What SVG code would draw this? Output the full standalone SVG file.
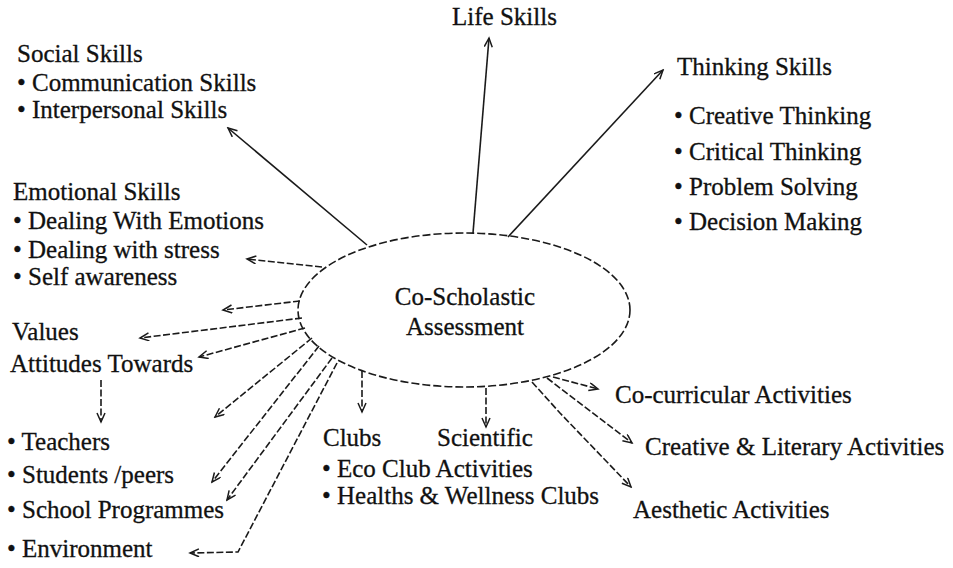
<svg xmlns="http://www.w3.org/2000/svg" width="953" height="568" viewBox="0 0 953 568">
<defs>
<style>
text{font-family:"Liberation Serif","Times New Roman",serif;font-size:25px;fill:#111;stroke:#111;stroke-width:0.3}
.c{fill:none;stroke:#1a1a1a;stroke-width:1.6}
.d{stroke-dasharray:7 2.5}
.ell{fill:none;stroke:#1a1a1a;stroke-width:1.6;stroke-dasharray:8 3}
</style>
<marker id="ah" markerWidth="12" markerHeight="10" refX="10" refY="4.5" orient="auto" markerUnits="userSpaceOnUse">
<path d="M1,0.5 L10,4.5 L1,8.5" fill="none" stroke="#1a1a1a" stroke-width="1.5"/>
</marker>
</defs>
<rect width="953" height="568" fill="#fff"/>

<g id="connectors">
<path class="c" d="M367,245 L228,128" marker-end="url(#ah)"/>
<path class="c" d="M473,233 L489,38" marker-end="url(#ah)"/>
<path class="c" d="M508,237 L663,70" marker-end="url(#ah)"/>
<path class="c d" d="M322,267 L247,259" marker-end="url(#ah)"/>
<path class="c d" d="M300,301 L223,310" marker-end="url(#ah)"/>
<path class="c d" d="M302,318 L140,338" marker-end="url(#ah)"/>
<path class="c d" d="M305,328 L199,357" marker-end="url(#ah)"/>
<path class="c d" d="M101,380 L101,422" marker-end="url(#ah)"/>
<path class="c d" d="M312,338 L215,417" marker-end="url(#ah)"/>
<path class="c d" d="M319,346 L212,482" marker-end="url(#ah)"/>
<path class="c d" d="M332,358 L227,500" marker-end="url(#ah)"/>
<path class="c d" d="M337,363 L238,552 L190,553" marker-end="url(#ah)"/>
<path class="c d" d="M362,371 L362,412" marker-end="url(#ah)"/>
<path class="c d" d="M486,388 L486,427" marker-end="url(#ah)"/>
<path class="c d" d="M553,377 L598,389" marker-end="url(#ah)"/>
<path class="c d" d="M547,378 L632,443" marker-end="url(#ah)"/>
<path class="c d" d="M532,382 L560,413 L631,487" marker-end="url(#ah)"/>
</g>

<g id="center">
<ellipse class="ell" cx="464" cy="310" rx="166" ry="77"/>
<text x="465" y="305" text-anchor="middle">Co-Scholastic</text>
<text x="465" y="335" text-anchor="middle">Assessment</text>
</g>

<g id="life-skills">
<text x="452" y="25">Life Skills</text>
</g>

<g id="social-skills">
<text x="17" y="62">Social Skills</text>
<text x="17" y="91">• Communication Skills</text>
<text x="17" y="118">• Interpersonal Skills</text>
</g>

<g id="emotional-skills">
<text x="13" y="200">Emotional Skills</text>
<text x="13" y="229">• Dealing With Emotions</text>
<text x="13" y="258">• Dealing with stress</text>
<text x="13" y="285">• Self awareness</text>
</g>

<g id="values">
<text x="12" y="340">Values</text>
</g>

<g id="attitudes">
<text x="10" y="372">Attitudes Towards</text>
</g>

<g id="attitude-targets">
<text x="7" y="450">• Teachers</text>
<text x="7" y="483">• Students /peers</text>
<text x="7" y="518">• School Programmes</text>
<text x="7" y="557">• Environment</text>
</g>

<g id="clubs">
<text x="323" y="446">Clubs</text>
</g>

<g id="scientific">
<text x="437" y="446">Scientific</text>
</g>

<g id="club-items">
<text x="322" y="477">• Eco Club Activities</text>
<text x="322" y="504">• Healths &amp; Wellness Clubs</text>
</g>

<g id="co-curricular">
<text x="615" y="403">Co-curricular Activities</text>
</g>

<g id="creative-literary">
<text x="645" y="455">Creative &amp; Literary Activities</text>
</g>

<g id="aesthetic">
<text x="633" y="518">Aesthetic Activities</text>
</g>

<g id="thinking-skills">
<text x="677" y="75">Thinking Skills</text>
<text x="674" y="124">• Creative Thinking</text>
<text x="674" y="160">• Critical Thinking</text>
<text x="674" y="195">• Problem Solving</text>
<text x="674" y="230">• Decision Making</text>
</g>
</svg>
